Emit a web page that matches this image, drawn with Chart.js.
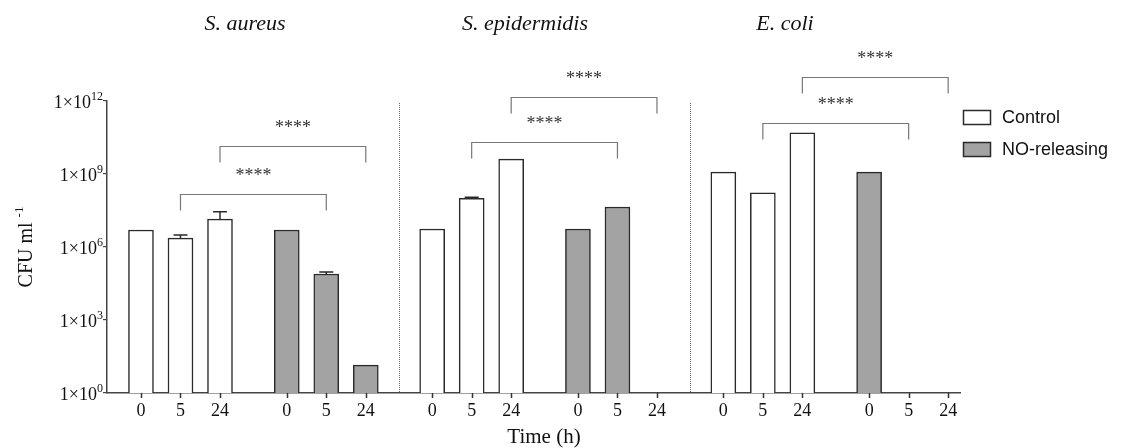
<!DOCTYPE html>
<html>
<head>
<meta charset="utf-8">
<script src="https://cdn.jsdelivr.net/npm/chart.js@4"></script>
<style>
  html, body { margin: 0; padding: 0; background: #fff; }
  #wrap { width: 1147px; height: 448px; }
</style>
</head>
<body>
<div id="wrap"><canvas id="chart" width="1147" height="448"></canvas></div>
<script>
// values (CFU/ml, log axis)
const species = ["S. aureus", "S. epidermidis", "E. coli"];
const timeLabels = ["0", "5", "24"];
const controlValues = [5.0e6, 2.3e6, 1.4e7, 5.5e6, 1.0e8, 4.1e9, 1.2e9, 1.7e8, 4.9e10];
const controlErrTop = [null, 3.1e6, 2.8e7, null, 1.1e8, null, null, null, null];
const releasingValues = [5.0e6, 7.8e4, 14, 5.5e6, 4.4e7, null, 1.2e9, null, null];
const releasingErrTop = [null, 9.4e4, null, null, null, null, null, null, null];
const yTickValues = [1, 1e3, 1e6, 1e9, 1e12];
const yTickExponents = ["0", "3", "6", "9", "12"];
// significance brackets: species index, time index, bracket level
const sigSpecies = [0, 0, 1, 1, 2, 2];
const sigTime = [1, 2, 1, 2, 1, 2];
const sigLevel = [1.5e8, 1.4e10, 2.1e10, 1.5e12, 1.3e11, 1.0e13];
const sigLabel = ["****", "****", "****", "****", "****", "****"];

const GROUP_STEP = 7.37, TREAT_STEP = 3.69;
const pos = (g, t, i) => g * GROUP_STEP + t * TREAT_STEP + i;

function toPoints(values, t) {
  const pts = [];
  values.forEach((v, k) => {
    if (v !== null) pts.push({ x: pos(Math.floor(k / 3), t, k % 3), y: v });
  });
  return pts;
}

const tickPositions = [];
species.forEach((s, g) => {
  [0, 1].forEach(t => timeLabels.forEach((l, i) => tickPositions.push(pos(g, t, i))));
});

const SERIF = "'Liberation Serif', 'Times New Roman', serif";
const SANS = "'Liberation Sans', Arial, sans-serif";
const INK = "#2a2a2a";

const decorations = {
  id: "decorations",
  afterDraw(chart) {
    const { ctx, chartArea, scales: { x, y } } = chart;
    ctx.save();

    // dotted separators between species
    ctx.strokeStyle = "#666";
    ctx.lineWidth = 1;
    ctx.setLineDash([1, 1]);
    for (let g = 1; g < species.length; g++) {
      const sx = Math.round((x.getPixelForValue(pos(g - 1, 1, 2)) + x.getPixelForValue(pos(g, 0, 0))) / 2) + 0.5;
      ctx.beginPath();
      ctx.moveTo(sx, chartArea.top + 2);
      ctx.lineTo(sx, chartArea.bottom);
      ctx.stroke();
    }
    ctx.setLineDash([]);

    // x tick marks under each bar position
    ctx.strokeStyle = "#333";
    ctx.lineWidth = 1.5;
    tickPositions.forEach(v => {
      const px = Math.round(x.getPixelForValue(v)) + 0.5;
      ctx.beginPath();
      ctx.moveTo(px, chartArea.bottom);
      ctx.lineTo(px, chartArea.bottom + 5);
      ctx.stroke();
    });

    // error bars (upper only)
    ctx.strokeStyle = INK;
    ctx.lineWidth = 1.5;
    [[controlValues, controlErrTop, 0], [releasingValues, releasingErrTop, 1]].forEach(([vals, errs, t]) => {
      errs.forEach((e, k) => {
        if (e === null) return;
        const px = x.getPixelForValue(pos(Math.floor(k / 3), t, k % 3));
        const y0 = y.getPixelForValue(vals[k]);
        const y1 = y.getPixelForValue(e);
        ctx.beginPath();
        ctx.moveTo(px, y0);
        ctx.lineTo(px, y1);
        ctx.moveTo(px - 7, y1);
        ctx.lineTo(px + 7, y1);
        ctx.stroke();
      });
    });

    // significance brackets
    ctx.strokeStyle = "#777";
    ctx.lineWidth = 1.2;
    ctx.fillStyle = "#333";
    ctx.font = "18px " + SERIF;
    ctx.textAlign = "center";
    ctx.textBaseline = "alphabetic";
    sigLevel.forEach((lv, k) => {
      const g = sigSpecies[k], i = sigTime[k];
      const xa = x.getPixelForValue(pos(g, 0, i));
      const xb = x.getPixelForValue(pos(g, 1, i));
      const by = Math.round(y.getPixelForValue(lv)) + 0.5;
      ctx.beginPath();
      ctx.moveTo(xa, by + 16);
      ctx.lineTo(xa, by);
      ctx.lineTo(xb, by);
      ctx.lineTo(xb, by + 16);
      ctx.stroke();
      ctx.fillText(sigLabel[k], (xa + xb) / 2, by - 14);
    });

    // species titles
    ctx.fillStyle = "#111";
    ctx.font = "italic 22px " + SERIF;
    const titleX = [245, 525, 785];
    species.forEach((s, g) => ctx.fillText(s, titleX[g], 30));

    // y tick labels 1×10^n
    ctx.textAlign = "right";
    ctx.textBaseline = "middle";
    yTickValues.forEach((v, k) => {
      const ty = y.getPixelForValue(v);
      const xr = chartArea.left - 4;
      ctx.font = "12px " + SERIF;
      const supW = ctx.measureText(yTickExponents[k]).width;
      ctx.fillText(yTickExponents[k], xr, ty - 4);
      ctx.font = "18px " + SERIF;
      ctx.fillText("1\u00d710", xr - supW, ty + 2);
    });

    // y title, rotated
    ctx.save();
    ctx.translate(27, 247);
    ctx.rotate(-Math.PI / 2);
    ctx.font = "20px " + SERIF;
    ctx.textAlign = "left";
    const mainW = ctx.measureText("CFU ml ").width;
    ctx.font = "13px " + SERIF;
    const supW2 = ctx.measureText("-1").width;
    const start = -(mainW + supW2) / 2;
    ctx.font = "20px " + SERIF;
    ctx.fillText("CFU ml ", start, 0);
    ctx.font = "13px " + SERIF;
    ctx.fillText("-1", start + mainW, -7);
    ctx.restore();

    // x title
    ctx.textAlign = "center";
    ctx.font = "21px " + SERIF;
    ctx.fillText("Time (h)", 544, 437);

    // legend
    ctx.textAlign = "left";
    ctx.font = "18px " + SANS;
    ctx.lineWidth = 1.5;
    ctx.strokeStyle = INK;
    [["Control", "#ffffff"], ["NO-releasing", "#a3a3a3"]].forEach(([label, fill], k) => {
      const ly = 110 + k * 32;
      ctx.fillStyle = fill;
      ctx.fillRect(963, ly, 27, 14);
      ctx.strokeRect(963.5, ly + 0.5, 27, 14);
      ctx.fillStyle = "#111";
      ctx.fillText(label, 1002, ly + 8);
    });

    ctx.restore();
  }
};

new Chart(document.getElementById("chart"), {
  type: "bar",
  data: {
    datasets: [
      {
        label: "Control",
        data: toPoints(controlValues, 0),
        backgroundColor: "#ffffff",
        borderColor: INK,
        borderWidth: 1.5,
        barThickness: 25,
        grouped: false
      },
      {
        label: "NO-releasing",
        data: toPoints(releasingValues, 1),
        backgroundColor: "#a3a3a3",
        borderColor: INK,
        borderWidth: 1.5,
        barThickness: 25,
        grouped: false
      }
    ]
  },
  options: {
    responsive: false,
    animation: false,
    devicePixelRatio: 1,
    layout: { padding: { left: 0, top: 101, right: 187, bottom: 0 } },
    plugins: { legend: { display: false }, tooltip: { enabled: false } },
    scales: {
      x: {
        type: "linear",
        offset: false,
        min: -0.86,
        max: pos(2, 1, 2) + 0.3,
        afterBuildTicks: s => { s.ticks = tickPositions.map(v => ({ value: v })); },
        afterFit: s => { s.height = 55; },
        ticks: {
          autoSkip: false,
          maxRotation: 0,
          padding: 2,
          color: "#111",
          font: { family: SERIF, size: 18 },
          callback: (v, i) => timeLabels[i % 3]
        },
        grid: { display: false, offset: false, drawOnChartArea: false, drawTicks: true, tickLength: 5 },
        border: { display: true, color: "#444", width: 1.5 }
      },
      y: {
        type: "logarithmic",
        min: 1,
        max: 1e12,
        afterBuildTicks: s => { s.ticks = yTickValues.map(v => ({ value: v })); },
        afterFit: s => { s.width = 107; },
        ticks: { display: false },
        grid: { drawOnChartArea: false, drawTicks: true, tickLength: 4, color: "#444", lineWidth: 1.2 },
        border: { display: true, color: "#444", width: 1.5 }
      }
    }
  },
  plugins: [decorations]
});
</script>
</body>
</html>
